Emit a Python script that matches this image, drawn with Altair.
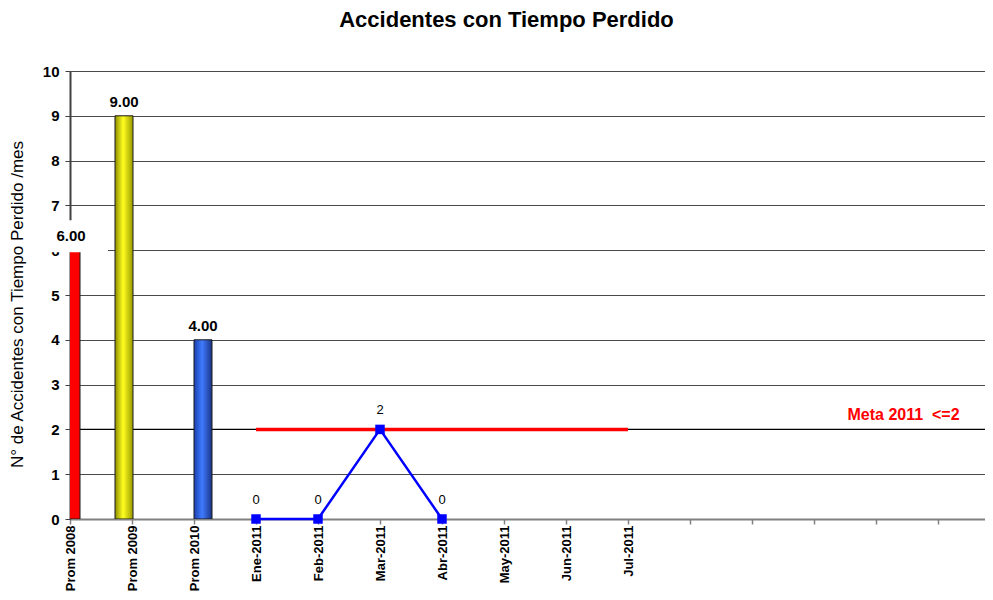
import altair as alt
import pandas as pd

# ---- data ----
categories = ["Prom 2008", "Prom 2009", "Prom 2010", "Ene-2011", "Feb-2011",
              "Mar-2011", "Abr-2011", "May-2011", "Jun-2011", "Jul-2011"]
n_slots = 15  # number of category slots on the x axis (last ones are empty)

bar_cats = ["Prom 2008", "Prom 2009", "Prom 2010"]
bar_values = [6.0, 9.0, 4.0]

line_cats = ["Ene-2011", "Feb-2011", "Mar-2011", "Abr-2011"]
line_values = [0, 0, 2, 0]

meta_cats = ["Ene-2011", "Feb-2011", "Mar-2011", "Abr-2011", "May-2011", "Jun-2011", "Jul-2011"]
meta_value = 2
meta_text = "Meta 2011\u00a0\u00a0<=2"

title_text = "Accidentes con Tiempo Perdido"
y_title = "N° de Accidentes con Tiempo Perdido /mes"

# ---- styles ----
W, H = 915, 448
slot_px = 62.0
x_max = W / slot_px
bar_px = 18

def grad(edge_l, mid, edge_r):
    return alt.Gradient(
        gradient="linear", x1=0, x2=1, y1=0, y2=0,
        stops=[alt.GradientStop(color=edge_l, offset=0),
               alt.GradientStop(color=mid, offset=0.45),
               alt.GradientStop(color=edge_r, offset=1)])

bar_fills = ["#ff0000",
             grad("#8c8c00", "#ffff20", "#9a9a00"),
             grad("#1c3fae", "#3f7bff", "#1a3486")]
bar_xoffsets = [1, -8, 9]   # pixel shift of each bar from its tick (style)

idx = {c: i for i, c in enumerate(categories)}
slot_labels = categories + [""] * (n_slots - len(categories))
label_js = "[" + ",".join("'" + s + "'" for s in slot_labels) + "][datum.value]"

bars_df = pd.DataFrame({"cat": bar_cats, "x": [idx[c] for c in bar_cats], "v": bar_values})
line_df = pd.DataFrame({"cat": line_cats, "x": [idx[c] for c in line_cats], "v": line_values})
meta_df = pd.DataFrame({"x": [idx[c] for c in meta_cats], "v": [meta_value] * len(meta_cats)})
meta_lbl_df = pd.DataFrame({"x": [12.54], "v": [meta_value], "t": [meta_text]})

xscale = alt.Scale(domain=[0, x_max], nice=False, zero=False)
yscale = alt.Scale(domain=[0, 10], nice=False)

xaxis = alt.Axis(
    values=list(range(n_slots)), labelExpr=label_js, labelAngle=270,
    labelFontSize=13, labelFontWeight="bold", labelColor="black",
    labelFont="Liberation Sans", labelPadding=1,
    tickSize=5, tickColor="#808080", tickWidth=1.5,
    domainColor="#808080", domainWidth=2, grid=False, title=None, zindex=0,
    labelOverlap=False, labelBound=False, labelFlush=False)
yaxis = alt.Axis(
    values=list(range(11)), labelFontSize=15, labelFontWeight="bold",
    labelColor="black", labelFont="Liberation Sans", labelPadding=6,
    tickSize=5, tickColor="#404040", domainColor="#404040", domainWidth=2,
    grid=True, gridColor="#4a4a4a", gridWidth=1,
    title=y_title, titleFont="Liberation Sans", titleFontSize=17,
    titleFontWeight="normal", titleColor="black", titleX=-53, titleY=233,
    titleBaseline="middle", titleAngle=270, zindex=0)

xenc = alt.X("x:Q", scale=xscale)
yenc = alt.Y("v:Q", scale=yscale)

layers = []

# axes carrier + black line at the goal level across whole plot
layers.append(alt.Chart(pd.DataFrame({"x": [0], "v": [meta_value]})).mark_rule(
    color="black", strokeWidth=1.2).encode(
    y=alt.Y("v:Q", scale=yscale, axis=yaxis)))
layers.append(alt.Chart(pd.DataFrame({"x": [0], "v": [0]})).mark_point(opacity=0).encode(
    x=alt.X("x:Q", scale=xscale, axis=xaxis), y=yenc))

for i, c in enumerate(bar_cats):
    off = bar_xoffsets[i]
    lo = (off - bar_px / 2) / slot_px
    hi = (off + bar_px / 2) / slot_px
    layers.append(alt.Chart(bars_df).transform_filter(alt.datum.cat == c)
        .transform_calculate(x0=f"datum.x + ({lo})", x1=f"datum.x + ({hi})")
        .mark_bar(fill=bar_fills[i], stroke="#1a1a1a", strokeWidth=1, clip=True)
        .encode(x=alt.X("x0:Q", scale=xscale), x2="x1:Q",
                y=yenc, y2=alt.datum(0)))

# white label box that sits behind the first bar value (covers axis there)
layers.append(alt.Chart(bars_df).transform_filter(alt.datum.cat == bar_cats[0]).mark_point(
    shape="M-1,-0.47H1V0.47H-1Z", size=68 * 68, filled=True, fill="white",
    opacity=1, strokeWidth=0, xOffset=4, yOffset=-14).encode(x=xenc, y=yenc))

for i, c in enumerate(bar_cats):
    layers.append(alt.Chart(bars_df).transform_filter(alt.datum.cat == c).mark_text(
        font="Liberation Sans", fontSize=15, fontWeight="bold", color="black",
        baseline="alphabetic", dy=-9, dx=bar_xoffsets[i]).encode(
        x=xenc, y=yenc, text=alt.Text("v:Q", format=".2f")))

# goal line
layers.append(alt.Chart(meta_df).mark_line(color="#ff0000", strokeWidth=3.5).encode(
    x=xenc, y=yenc))

# monthly series
layers.append(alt.Chart(line_df).mark_line(
    color="#0000ff", strokeWidth=2.5,
    point=alt.OverlayMarkDef(shape="square", size=90, filled=True, color="#0000ff", opacity=1)
).encode(x=xenc, y=yenc))

layers.append(alt.Chart(line_df).mark_text(
    font="Liberation Sans", fontSize=13, color="black", baseline="middle", dy=-19).encode(
    x=xenc, y=yenc, text="v:Q"))

layers.append(alt.Chart(meta_lbl_df).mark_text(
    font="Liberation Sans", fontSize=16, fontWeight="bold", color="#ff0000",
    align="left", baseline="alphabetic", dy=-9).encode(
    x=xenc, y=yenc, text="t:N"))

chart = alt.layer(*layers).properties(
    width=W, height=H,
    title=alt.TitleParams(title_text, font="Liberation Sans", fontSize=22,
                          fontWeight="bold", color="black", anchor="middle",
                          dx=-21, offset=32),
    autosize=alt.AutoSizeParams(type="none"),
    padding={"left": 62, "top": 63, "right": 0, "bottom": 73},
).configure_view(stroke=None).configure(background="white")

chart.save("out.html", embed_options={"renderer": "svg", "actions": False})
